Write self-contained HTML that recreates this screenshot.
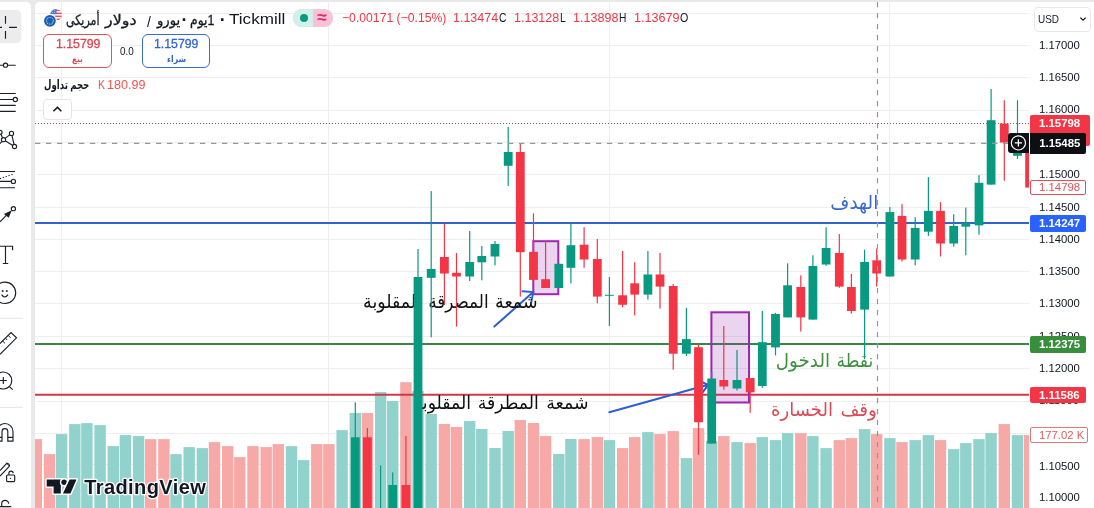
<!DOCTYPE html>
<html lang="en">
<head>
<meta charset="utf-8">
<title>EURUSD 1D Tickmill</title>
<style>
*{box-sizing:border-box;margin:0;padding:0}
html,body{width:1094px;height:508px;overflow:hidden;background:#fff}
body{position:relative;font-family:"Liberation Sans","DejaVu Sans",sans-serif;color:#131722;-webkit-font-smoothing:antialiased}
.abs{position:absolute;white-space:nowrap}
#topbar{left:0;top:0;width:1094px;height:2px;background:#e9e9ea}
#sep{left:31px;top:0;width:4px;height:508px;background:#e9e9ea}
#toolbar{left:0;top:2px;width:31px;height:506px;background:#fff}
#chart{position:absolute;left:0;top:0}
.pl{left:1030px;width:56px;height:16px;border-radius:2px;font-size:11.4px;font-weight:bold;color:#fff;line-height:16px;padding-left:9px;letter-spacing:0px}
.ps{left:1039px;font-size:11.3px;color:#131722;line-height:12px;height:12px}
.leg{top:11px;font-size:12.4px;line-height:15px;color:#f23645}
.leg b{font-weight:normal;color:#131722}
</style>
</head>
<body>
<svg id="chart" width="1094" height="508" viewBox="0 0 1094 508">
<defs><clipPath id="pane"><rect x="35" y="2" width="994" height="506"/></clipPath></defs>
<g stroke="#eeeeef" stroke-width="1" shape-rendering="crispEdges"><line x1="35" x2="1028.5" y1="13.5" y2="13.5"/><line x1="35" x2="1028.5" y1="45.4" y2="45.4"/><line x1="35" x2="1028.5" y1="77.5" y2="77.5"/><line x1="35" x2="1028.5" y1="110" y2="110"/><line x1="35" x2="1028.5" y1="142.2" y2="142.2"/><line x1="35" x2="1028.5" y1="174.2" y2="174.2"/><line x1="35" x2="1028.5" y1="207" y2="207"/><line x1="35" x2="1028.5" y1="239.4" y2="239.4"/><line x1="35" x2="1028.5" y1="271.3" y2="271.3"/><line x1="35" x2="1028.5" y1="303.7" y2="303.7"/><line x1="35" x2="1028.5" y1="336" y2="336"/><line x1="35" x2="1028.5" y1="368" y2="368"/><line x1="35" x2="1028.5" y1="401" y2="401"/><line x1="35" x2="1028.5" y1="433.4" y2="433.4"/><line x1="35" x2="1028.5" y1="464.8" y2="464.8"/><line x1="35" x2="1028.5" y1="497.2" y2="497.2"/><line x1="61.6" x2="61.6" y1="2" y2="508"/><line x1="328.9" x2="328.9" y1="2" y2="508"/><line x1="609.4" x2="609.4" y1="2" y2="508"/><line x1="889.9" x2="889.9" y1="2" y2="508"/></g>
<g clip-path="url(#pane)">
<g><rect x="30.6" y="439.1" width="11.4" height="70.9" fill="#f7a9a7"/><rect x="43.8" y="454.1" width="11.4" height="55.9" fill="#f7a9a7"/><rect x="55.9" y="434.1" width="11.4" height="75.9" fill="#92d2cc"/><rect x="69.1" y="424.1" width="11.4" height="85.9" fill="#92d2cc"/><rect x="81.2" y="423.1" width="11.4" height="86.9" fill="#92d2cc"/><rect x="94.4" y="425.1" width="11.4" height="84.9" fill="#92d2cc"/><rect x="107.6" y="446.1" width="11.4" height="63.9" fill="#92d2cc"/><rect x="119.7" y="435.1" width="11.4" height="74.9" fill="#92d2cc"/><rect x="132.9" y="436.1" width="11.4" height="73.9" fill="#92d2cc"/><rect x="145" y="439.1" width="11.4" height="70.9" fill="#f7a9a7"/><rect x="158.2" y="439.1" width="11.4" height="70.9" fill="#f7a9a7"/><rect x="170.3" y="454.1" width="11.4" height="55.9" fill="#92d2cc"/><rect x="183.5" y="447.1" width="11.4" height="62.9" fill="#92d2cc"/><rect x="196.7" y="448.1" width="11.4" height="61.9" fill="#92d2cc"/><rect x="208.8" y="442.1" width="11.4" height="67.9" fill="#f7a9a7"/><rect x="222" y="446.1" width="11.4" height="63.9" fill="#f7a9a7"/><rect x="234.1" y="457.1" width="11.4" height="52.9" fill="#f7a9a7"/><rect x="247.3" y="446.1" width="11.4" height="63.9" fill="#f7a9a7"/><rect x="260.5" y="447.1" width="11.4" height="62.9" fill="#f7a9a7"/><rect x="272.6" y="444.1" width="11.4" height="65.9" fill="#f7a9a7"/><rect x="285.8" y="446.1" width="11.4" height="63.9" fill="#92d2cc"/><rect x="297.9" y="460.1" width="11.4" height="49.9" fill="#92d2cc"/><rect x="311.1" y="444.1" width="11.4" height="65.9" fill="#f7a9a7"/><rect x="323.2" y="444.1" width="11.4" height="65.9" fill="#f7a9a7"/><rect x="336.4" y="430.1" width="11.4" height="79.9" fill="#92d2cc"/><rect x="349.6" y="413" width="11.4" height="97" fill="#92d2cc"/><rect x="361.7" y="413" width="11.4" height="97" fill="#f7a9a7"/><rect x="374.9" y="392" width="11.4" height="118" fill="#92d2cc"/><rect x="387" y="401" width="11.4" height="109" fill="#92d2cc"/><rect x="400.2" y="382.2" width="11.4" height="127.8" fill="#f7a9a7"/><rect x="412.3" y="391" width="11.4" height="119" fill="#92d2cc"/><rect x="425.5" y="414" width="11.4" height="96" fill="#92d2cc"/><rect x="438.7" y="424" width="11.4" height="86" fill="#f7a9a7"/><rect x="450.8" y="427" width="11.4" height="83" fill="#f7a9a7"/><rect x="464" y="421" width="11.4" height="89" fill="#92d2cc"/><rect x="476.1" y="429" width="11.4" height="81" fill="#92d2cc"/><rect x="489.3" y="448" width="11.4" height="62" fill="#92d2cc"/><rect x="502.5" y="431" width="11.4" height="79" fill="#92d2cc"/><rect x="514.6" y="420" width="11.4" height="90" fill="#f7a9a7"/><rect x="527.8" y="423" width="11.4" height="87" fill="#f7a9a7"/><rect x="539.9" y="436" width="11.4" height="74" fill="#f7a9a7"/><rect x="553.1" y="454" width="11.4" height="56" fill="#92d2cc"/><rect x="565.2" y="439" width="11.4" height="71" fill="#92d2cc"/><rect x="578.4" y="439.1" width="11.4" height="70.9" fill="#f7a9a7"/><rect x="591.6" y="437.1" width="11.4" height="72.9" fill="#f7a9a7"/><rect x="603.7" y="440.1" width="11.4" height="69.9" fill="#92d2cc"/><rect x="616.9" y="448.1" width="11.4" height="61.9" fill="#f7a9a7"/><rect x="629" y="437.1" width="11.4" height="72.9" fill="#f7a9a7"/><rect x="642.2" y="432.1" width="11.4" height="77.9" fill="#92d2cc"/><rect x="654.3" y="434.1" width="11.4" height="75.9" fill="#f7a9a7"/><rect x="667.5" y="431.1" width="11.4" height="78.9" fill="#f7a9a7"/><rect x="680.7" y="458.1" width="11.4" height="51.9" fill="#92d2cc"/><rect x="692.8" y="428.1" width="11.4" height="81.9" fill="#f7a9a7"/><rect x="706" y="441" width="11.4" height="69" fill="#92d2cc"/><rect x="718.1" y="436.1" width="11.4" height="73.9" fill="#f7a9a7"/><rect x="731.3" y="442.1" width="11.4" height="67.9" fill="#92d2cc"/><rect x="744.5" y="443.1" width="11.4" height="66.9" fill="#f7a9a7"/><rect x="756.6" y="437.1" width="11.4" height="72.9" fill="#92d2cc"/><rect x="769.8" y="440.1" width="11.4" height="69.9" fill="#92d2cc"/><rect x="781.9" y="433.1" width="11.4" height="76.9" fill="#92d2cc"/><rect x="795.1" y="433.1" width="11.4" height="76.9" fill="#f7a9a7"/><rect x="807.2" y="436.1" width="11.4" height="73.9" fill="#92d2cc"/><rect x="820.4" y="448.1" width="11.4" height="61.9" fill="#92d2cc"/><rect x="833.6" y="440.1" width="11.4" height="69.9" fill="#f7a9a7"/><rect x="845.7" y="438.1" width="11.4" height="71.9" fill="#f7a9a7"/><rect x="858.9" y="429.1" width="11.4" height="80.9" fill="#92d2cc"/><rect x="871" y="434.1" width="11.4" height="75.9" fill="#f7a9a7"/><rect x="884.2" y="438.1" width="11.4" height="71.9" fill="#92d2cc"/><rect x="896.3" y="442.1" width="11.4" height="67.9" fill="#f7a9a7"/><rect x="909.5" y="440.1" width="11.4" height="69.9" fill="#92d2cc"/><rect x="922.7" y="435.1" width="11.4" height="74.9" fill="#92d2cc"/><rect x="934.8" y="440.1" width="11.4" height="69.9" fill="#f7a9a7"/><rect x="948" y="449.1" width="11.4" height="60.9" fill="#92d2cc"/><rect x="960.1" y="443.1" width="11.4" height="66.9" fill="#92d2cc"/><rect x="973.3" y="439.1" width="11.4" height="70.9" fill="#92d2cc"/><rect x="985.4" y="433.1" width="11.4" height="76.9" fill="#92d2cc"/><rect x="998.6" y="424.1" width="11.4" height="85.9" fill="#f7a9a7"/><rect x="1011.8" y="435.1" width="11.4" height="74.9" fill="#92d2cc"/><rect x="1023.9" y="435.1" width="11.4" height="74.9" fill="#f7a9a7"/></g>
<g id="drawings">
<line x1="35" x2="1029" y1="222.9" y2="222.9" stroke="#3163cc" stroke-width="2"/>
<line x1="35" x2="1029" y1="343.9" y2="343.9" stroke="#3c8545" stroke-width="2"/>
<line x1="35" x2="1029" y1="394.8" y2="394.8" stroke="#cd384a" stroke-width="2"/>
<rect x="533.3" y="241.2" width="25" height="53" fill="#9c27b0" fill-opacity="0.2" stroke="#9c27b0" stroke-width="2"/>
<rect x="711.4" y="312.3" width="37.6" height="90.2" fill="#9c27b0" fill-opacity="0.2" stroke="#9c27b0" stroke-width="2"/>
<g stroke="#2c5fd6" stroke-width="2" fill="none" stroke-linecap="round">
<path d="M494.3 326.6L533.2 292.1M522.5 291.2L533.2 292.1L531.2 302.6"/>
<path d="M609.3 412.3L708.2 384.8M699.5 381L708.2 384.8L702.6 392.4"/>
</g>
<g font-family="'Liberation Sans','DejaVu Sans',sans-serif" text-anchor="end">
<text id="t1a" transform="translate(537.54 308) scale(0.918 1)" font-size="19" fill="#101010" stroke="#101010" stroke-width="0">شمعة</text>
<text id="t1b" transform="translate(488.63 308) scale(0.886 1)" font-size="19" fill="#101010" stroke="#101010" stroke-width="0">المصرقة</text>
<text id="t1c" transform="translate(420.77 308) scale(0.912 1)" font-size="19" fill="#101010" stroke="#101010" stroke-width="0">المقلوبة</text>
<text id="t2a" transform="translate(588.51 409.4) scale(0.938 1)" font-size="18.5" fill="#101010" stroke="#101010" stroke-width="0">شمعة</text>
<text id="t2b" transform="translate(538.66 409.4) scale(0.929 1)" font-size="18.5" fill="#101010" stroke="#101010" stroke-width="0">المطرقة</text>
<text id="t2c" transform="translate(471.06 409.4) scale(0.934 1)" font-size="18.5" fill="#101010" stroke="#101010" stroke-width="0">المقلوبة</text>
<text id="t3" transform="translate(878.24 208.9) scale(0.968 1)" font-size="19" fill="#3668cf" stroke="#3668cf" stroke-width="0">الهدف</text>
<text id="t4a" transform="translate(873.26 367) scale(0.904 1)" font-size="19" fill="#3f8f3f" stroke="#3f8f3f" stroke-width="0">نقطة</text>
<text id="t4b" transform="translate(830.03 367) scale(0.961 1)" font-size="19" fill="#3f8f3f" stroke="#3f8f3f" stroke-width="0">الدخول</text>
<text id="t5a" transform="translate(876.92 416) scale(0.989 1)" font-size="18.5" fill="#dc4a55" stroke="#dc4a55" stroke-width="0">وقف</text>
<text id="t5b" transform="translate(833.01 416) scale(0.975 1)" font-size="18.5" fill="#dc4a55" stroke="#dc4a55" stroke-width="0">الخسارة</text>
</g>
</g>

<g><rect x="354.7" y="402.3" width="1.2" height="117.7" fill="#089981"/><rect x="350.9" y="437.3" width="8.8" height="82.7" fill="#089981"/><rect x="366.8" y="428" width="1.2" height="92" fill="#f23645"/><rect x="363" y="437.3" width="8.8" height="82.7" fill="#f23645"/><rect x="380" y="465.4" width="1.2" height="54.6" fill="#089981"/><rect x="376.2" y="515" width="8.8" height="5" fill="#089981"/><rect x="392.1" y="472.4" width="1.2" height="47.6" fill="#089981"/><rect x="388.3" y="485" width="8.8" height="35" fill="#089981"/><rect x="405.3" y="436" width="1.2" height="84" fill="#f23645"/><rect x="401.5" y="485" width="8.8" height="35" fill="#f23645"/><rect x="417.4" y="249" width="1.2" height="271" fill="#089981"/><rect x="413.6" y="277" width="8.8" height="243" fill="#089981"/><rect x="430.6" y="191.1" width="1.2" height="146.3" fill="#089981"/><rect x="426.8" y="269" width="8.8" height="8.8" fill="#089981"/><rect x="443.8" y="223.4" width="1.2" height="81.6" fill="#f23645"/><rect x="440" y="257" width="8.8" height="16.5" fill="#f23645"/><rect x="455.9" y="253" width="1.2" height="73.6" fill="#f23645"/><rect x="452.1" y="272.8" width="8.8" height="3.7" fill="#f23645"/><rect x="469.1" y="231" width="1.2" height="50" fill="#089981"/><rect x="465.3" y="262" width="8.8" height="14.5" fill="#089981"/><rect x="481.2" y="246" width="1.2" height="34.3" fill="#089981"/><rect x="477.4" y="256" width="8.8" height="6.3" fill="#089981"/><rect x="494.4" y="241" width="1.2" height="24.3" fill="#089981"/><rect x="490.6" y="244" width="8.8" height="12.5" fill="#089981"/><rect x="507.6" y="127" width="1.2" height="58.9" fill="#089981"/><rect x="503.8" y="152" width="8.8" height="13.8" fill="#089981"/><rect x="519.7" y="143.8" width="1.2" height="152.8" fill="#f23645"/><rect x="515.9" y="152" width="8.8" height="100.2" fill="#f23645"/><rect x="532.9" y="213.4" width="1.2" height="67.6" fill="#f23645"/><rect x="529.1" y="251.8" width="8.8" height="28.1" fill="#f23645"/><rect x="545" y="241" width="1.2" height="47" fill="#f23645"/><rect x="541.2" y="279.2" width="8.8" height="8.8" fill="#f23645"/><rect x="558.2" y="263.8" width="1.2" height="24.2" fill="#089981"/><rect x="554.4" y="263.8" width="8.8" height="24.2" fill="#089981"/><rect x="570.3" y="223.4" width="1.2" height="60.1" fill="#089981"/><rect x="566.5" y="245.2" width="8.8" height="22.6" fill="#089981"/><rect x="583.5" y="227.2" width="1.2" height="40.6" fill="#f23645"/><rect x="579.7" y="244.7" width="8.8" height="14.8" fill="#f23645"/><rect x="596.7" y="239" width="1.2" height="64.3" fill="#f23645"/><rect x="592.9" y="259" width="8.8" height="37.6" fill="#f23645"/><rect x="608.8" y="277" width="1.2" height="48.9" fill="#089981"/><rect x="605" y="294.8" width="8.8" height="1" fill="#089981"/><rect x="622" y="251" width="1.2" height="56.3" fill="#f23645"/><rect x="618.2" y="295.3" width="8.8" height="9.5" fill="#f23645"/><rect x="634.1" y="262.3" width="1.2" height="53.1" fill="#f23645"/><rect x="630.3" y="283.3" width="8.8" height="11.3" fill="#f23645"/><rect x="647.3" y="251" width="1.2" height="48.6" fill="#089981"/><rect x="643.5" y="274.5" width="8.8" height="20.1" fill="#089981"/><rect x="659.4" y="253" width="1.2" height="55.6" fill="#f23645"/><rect x="655.6" y="274.5" width="8.8" height="12.1" fill="#f23645"/><rect x="672.6" y="284" width="1.2" height="85.7" fill="#f23645"/><rect x="668.8" y="286" width="8.8" height="67.7" fill="#f23645"/><rect x="685.8" y="307.8" width="1.2" height="48.2" fill="#089981"/><rect x="682" y="339.1" width="8.8" height="14.6" fill="#089981"/><rect x="697.9" y="344.7" width="1.2" height="110.2" fill="#f23645"/><rect x="694.1" y="347.2" width="8.8" height="75.1" fill="#f23645"/><rect x="711.1" y="372" width="1.2" height="71.6" fill="#089981"/><rect x="707.3" y="378.5" width="8.8" height="65.1" fill="#089981"/><rect x="723.2" y="326" width="1.2" height="63.8" fill="#f23645"/><rect x="719.4" y="380" width="8.8" height="6.5" fill="#f23645"/><rect x="736.4" y="350" width="1.2" height="40.5" fill="#089981"/><rect x="732.6" y="380" width="8.8" height="8.5" fill="#089981"/><rect x="749.6" y="378" width="1.2" height="34.8" fill="#f23645"/><rect x="745.8" y="378" width="8.8" height="14.3" fill="#f23645"/><rect x="761.7" y="311" width="1.2" height="76.8" fill="#089981"/><rect x="757.9" y="342.2" width="8.8" height="43.8" fill="#089981"/><rect x="774.9" y="312.9" width="1.2" height="42.5" fill="#089981"/><rect x="771.1" y="314" width="8.8" height="33.4" fill="#089981"/><rect x="787" y="263.3" width="1.2" height="54.1" fill="#089981"/><rect x="783.2" y="285.3" width="8.8" height="32.1" fill="#089981"/><rect x="800.2" y="275.3" width="1.2" height="56.3" fill="#f23645"/><rect x="796.4" y="287" width="8.8" height="30.4" fill="#f23645"/><rect x="812.3" y="255.3" width="1.2" height="64.3" fill="#089981"/><rect x="808.5" y="266" width="8.8" height="53.6" fill="#089981"/><rect x="825.5" y="227.2" width="1.2" height="38.6" fill="#089981"/><rect x="821.7" y="248" width="8.8" height="16.5" fill="#089981"/><rect x="838.7" y="234" width="1.2" height="53.8" fill="#f23645"/><rect x="834.9" y="253" width="8.8" height="33.6" fill="#f23645"/><rect x="850.8" y="274" width="1.2" height="39.6" fill="#f23645"/><rect x="847" y="287" width="8.8" height="24" fill="#f23645"/><rect x="864" y="249.7" width="1.2" height="109.5" fill="#089981"/><rect x="860.2" y="262" width="8.8" height="47.6" fill="#089981"/><rect x="876.1" y="248.5" width="1.2" height="38.1" fill="#f23645"/><rect x="872.3" y="260.3" width="8.8" height="13.2" fill="#f23645"/><rect x="889.3" y="207.1" width="1.2" height="69.4" fill="#089981"/><rect x="885.5" y="212.1" width="8.8" height="64.4" fill="#089981"/><rect x="901.4" y="204.1" width="1.2" height="57.4" fill="#f23645"/><rect x="897.6" y="215.9" width="8.8" height="43.6" fill="#f23645"/><rect x="914.6" y="217.2" width="1.2" height="48.1" fill="#089981"/><rect x="910.8" y="227.9" width="8.8" height="31.6" fill="#089981"/><rect x="927.8" y="177.1" width="1.2" height="58.8" fill="#089981"/><rect x="924" y="210.9" width="8.8" height="20.8" fill="#089981"/><rect x="939.9" y="202.1" width="1.2" height="54.4" fill="#f23645"/><rect x="936.1" y="210.9" width="8.8" height="32.6" fill="#f23645"/><rect x="953.1" y="214.2" width="1.2" height="32.5" fill="#089981"/><rect x="949.3" y="225.9" width="8.8" height="17.6" fill="#089981"/><rect x="965.2" y="207.6" width="1.2" height="47.7" fill="#089981"/><rect x="961.4" y="222.9" width="8.8" height="3.8" fill="#089981"/><rect x="978.4" y="175.1" width="1.2" height="59.6" fill="#089981"/><rect x="974.6" y="182.8" width="8.8" height="42.6" fill="#089981"/><rect x="990.5" y="88.9" width="1.2" height="95.7" fill="#089981"/><rect x="986.7" y="120.2" width="8.8" height="64.4" fill="#089981"/><rect x="1003.7" y="100.2" width="1.2" height="80.6" fill="#f23645"/><rect x="999.9" y="123.5" width="8.8" height="19" fill="#f23645"/><rect x="1016.9" y="100.2" width="1.2" height="58.8" fill="#089981"/><rect x="1013.1" y="148" width="8.8" height="7.8" fill="#089981"/><rect x="1029" y="143" width="1.2" height="44.6" fill="#f23645"/><rect x="1025.2" y="143" width="8.8" height="44.6" fill="#f23645"/></g>
</g>
<g id="overlay">
<line x1="35" x2="1029" y1="123.45" y2="123.45" stroke="#9c525d" stroke-width="1.15" stroke-dasharray="1 2"/>
<line x1="35" x2="1008.5" y1="143.45" y2="143.45" stroke="#94969b" stroke-width="1.2" stroke-dasharray="5.3 5.7"/>
<line x1="877.5" x2="877.5" y1="1.9" y2="508" stroke="#94969b" stroke-width="1.2" stroke-dasharray="5.3 5.7"/>
</g>

</svg>
<div class="abs" id="topbar"></div>
<div class="abs" id="toolbar"></div>
<div class="abs" id="sep"></div>
<svg class="abs" style="left:0;top:0" width="31" height="508" viewBox="0 0 31 508" fill="none" stroke="#1c1f2a" stroke-width="1.15">
<path d="M0 10H16.3a5 5 0 0 1 5 5V38.2a5 5 0 0 1 -5 5H0z" fill="#ececed" stroke="none"/>
<path d="M5.5 16V23.8M5.5 31V38.8M9 27.4H16.9M0 27.4H2"/>
<path d="M0 65.2H3.4M7.7 65.2H15.7"/><circle cx="5.5" cy="65.2" r="2.1" fill="#fff"/>
<path d="M0 93.5H15.7M0 99.5H13.1M0 105.4H15.7M0 111.3H15.7"/><circle cx="15.3" cy="99.5" r="2.1" fill="#fff"/>
<path d="M0 132.3L3.5 139.7L11.5 133.4L14.5 146.5L3.5 139.7L0 143.5"/>
<circle cx="0" cy="132.3" r="2.1" fill="#fff"/><circle cx="3.5" cy="139.7" r="2.1" fill="#fff"/><circle cx="11.5" cy="133.4" r="2.1" fill="#fff"/><circle cx="14.5" cy="146.5" r="2.1" fill="#fff"/>
<path d="M0 171.5H15M0 181.4H11.3M0 187.7H15"/><path d="M0 178.6L13 174.2" stroke-dasharray="1.2 1.8"/><circle cx="13.4" cy="181.4" r="2.1" fill="#fff"/>
<path d="M0 221.8L8 213.7"/><path d="M11.8 210.3L3.9 213.9L8.7 217.8z" fill="#1c1f2a" stroke="none"/><circle cx="13.4" cy="208.7" r="2.1" fill="#fff"/>
<path d="M0 246.2H12.6V250.2M5.5 246.2V263.5M2.8 263.5H8.2"/>
<circle cx="5" cy="292.8" r="10.7"/><path d="M1.7 291H3.7M2.7 290V292M5.8 291H7.8M6.8 290V292" stroke-width="0.9"/><path d="M1.6 294.6Q4.8 299.4 8 294.6"/>
<path d="M0 318.3H22.8M0 407.4H22.8" stroke="#e4e6ea" stroke-width="1"/>
<path d="M0 343.6L11 332.5L16.5 337.8L0 354.3"/><path d="M2.6 341L5 343.4M5.4 338.2L7.2 340M8.2 335.4L10.6 337.8" stroke-width="1"/>
<circle cx="3.3" cy="380.5" r="8.5"/><path d="M0 380.5H6.8M3.3 377V384M9.4 386.6L12.7 389.7"/>
<path d="M-3.2 441.1V431.6a8.1 8.1 0 0 1 16.2 0V441.1H7.8V431.6a2.9 2.9 0 0 0 -5.8 0V441.1z"/><path d="M-3.2 437.3H2M7.8 437.3H13"/>
<path d="M0 470.5L6 464.2a1.9 1.9 0 0 1 2.8 2.6L0 476"/><path d="M5.8 462.6L9.6 466.2" stroke-width="0.9"/>
<rect x="6.6" y="475" width="8.1" height="6.6" rx="1"/><path d="M8.9 475V473.2a2.1 2.1 0 0 1 4.2 0"/><circle cx="10.6" cy="478.4" r="0.6" fill="#1c1f2a" stroke="none"/>
<path d="M0 506.6H11.3M1.7 506.6V503.8a3.5 3.5 0 0 1 7 0"/>
</svg>
<div class="abs" id="corner1" style="left:27px;top:2px;width:4px;height:4px;background:radial-gradient(circle at 0 100%,#fff 3.4px,#e9e9ea 4.2px)"></div>
<div class="abs" id="corner2" style="left:35px;top:2px;width:4px;height:4px;background:radial-gradient(circle at 100% 100%,#fff 3.4px,#e9e9ea 4.2px)"></div>

<svg class="abs" style="left:40px;top:6px" width="26" height="24" viewBox="40 6 26 24">
<defs><clipPath id="usc"><circle cx="56.1" cy="14.8" r="5.9"/></clipPath></defs>
<g clip-path="url(#usc)"><rect x="50" y="8" width="13" height="14" fill="#fff"/>
<rect x="50" y="9.6" width="13" height="1.5" fill="#e0525c"/><rect x="50" y="12.6" width="13" height="1.5" fill="#e0525c"/><rect x="50" y="15.6" width="13" height="1.5" fill="#e0525c"/><rect x="50" y="18.6" width="13" height="1.6" fill="#e0525c"/>
<rect x="50" y="8" width="6.6" height="6.2" fill="#4a7fd0"/>
<g fill="#fff"><circle cx="52.6" cy="10.4" r=".45"/><circle cx="54.6" cy="10.4" r=".45"/><circle cx="52.6" cy="12.4" r=".45"/><circle cx="54.6" cy="12.4" r=".45"/></g></g>
<circle cx="49.9" cy="20.8" r="7" fill="#fff"/><circle cx="49.9" cy="20.8" r="5.9" fill="#1b5fb3"/>
<circle cx="49.9" cy="20.8" r="3.4" fill="none" stroke="#b5d2f5" stroke-width="1.1" stroke-dasharray="0.9 0.88"/>
</svg>
<div class="abs" style="left:293.4px;top:9.2px;width:39.2px;height:17.4px;border-radius:8.7px;background:#f9c3d6;overflow:hidden"><div style="position:absolute;left:0;top:0;width:19.6px;height:17.4px;background:#d3efe9"></div></div>
<div class="abs" style="left:299.5px;top:13.7px;width:8.8px;height:8.8px;border-radius:50%;background:#089981"></div>
<div class="abs" style="left:316.5px;top:9.2px;width:11px;height:17.4px;line-height:17.4px;text-align:center;font-size:17.5px;font-weight:bold;color:#e5266f">≈</div>
<div class="abs" style="left:43px;top:34.3px;width:69px;height:33.3px;border:1px solid #e2525c;border-radius:6px;background:#fff"></div>
<div class="abs" style="left:141.8px;top:34.3px;width:68px;height:33.3px;border:1px solid #3c6bd0;border-radius:6px;background:#fff"></div>
<div class="abs" style="left:43px;top:99.2px;width:28.8px;height:20.4px;border:1px solid #e3e5ea;border-radius:4px;background:#fff"></div>
<svg class="abs" style="left:51px;top:104px" width="13" height="11" viewBox="0 0 13 11"><path d="M2.4 7.2L6.4 3.4L10.4 7.2" fill="none" stroke="#131722" stroke-width="1.5"/></svg>
<div class="abs" id="h1" style="left:65.80px;top:9.7px;font-size:14.5px;font-weight:normal;color:#131722;line-height:20.3px;height:20.3px;transform-origin:0 50%;transform:scaleX(0.765);-webkit-text-stroke:0.3px #131722">أمريكى</div>
<div class="abs" id="h2" style="left:104.50px;top:9.7px;font-size:14.5px;font-weight:normal;color:#131722;line-height:20.3px;height:20.3px;transform-origin:0 50%;transform:scaleX(1.100);-webkit-text-stroke:0.3px #131722">دولار</div>
<div class="abs" id="h3" style="left:147.20px;top:12.8px;font-size:14px;font-weight:normal;color:#131722;line-height:19.6px;height:19.6px;transform-origin:0 50%;transform:scaleX(1.002)">/</div>
<div class="abs" id="h4" style="left:156.61px;top:9.7px;font-size:14.5px;font-weight:normal;color:#131722;line-height:20.3px;height:20.3px;transform-origin:0 50%;transform:scaleX(0.910);-webkit-text-stroke:0.3px #131722">يورو</div>
<div class="abs" id="h5" style="left:181.50px;top:8.4px;font-size:18px;font-weight:bold;color:#131722;line-height:25.2px;height:25.2px;transform-origin:0 50%;transform:scaleX(1.000)">·</div>
<div class="abs" id="h6" dir="rtl" style="left:189.90px;top:9.7px;font-size:14.5px;font-weight:normal;color:#131722;line-height:20.3px;height:20.3px;transform-origin:0 50%;transform:scaleX(0.853);-webkit-text-stroke:0.3px #131722">1يوم</div>
<div class="abs" id="h7" style="left:219.80px;top:8.4px;font-size:18px;font-weight:bold;color:#131722;line-height:25.2px;height:25.2px;transform-origin:0 50%;transform:scaleX(1.000)">·</div>
<div class="abs" id="h8" style="left:228.60px;top:7.5px;font-size:15.5px;font-weight:normal;color:#131722;line-height:21.7px;height:21.7px;transform-origin:0 50%;transform:scaleX(1.104)">Tickmill</div>
<div class="abs" id="l1" style="left:342.30px;top:9.6px;font-size:12.4px;font-weight:normal;color:#f23645;line-height:17.4px;height:17.4px;transform-origin:0 50%;transform:scaleX(0.984)">−0.00171 (−0.15%)</div>
<div class="abs" id="l2" style="left:453.30px;top:9.6px;font-size:12.4px;font-weight:normal;color:#f23645;line-height:17.4px;height:17.4px;transform-origin:0 50%;transform:scaleX(1.007)">1.13474</div>
<div class="abs" id="l2b" style="left:498.80px;top:9.6px;font-size:12.4px;font-weight:normal;color:#131722;line-height:17.4px;height:17.4px;transform-origin:0 50%;transform:scaleX(0.838)">C</div>
<div class="abs" id="l3" style="left:514.20px;top:9.6px;font-size:12.4px;font-weight:normal;color:#f23645;line-height:17.4px;height:17.4px;transform-origin:0 50%;transform:scaleX(1.009)">1.13128</div>
<div class="abs" id="l3b" style="left:559.80px;top:9.6px;font-size:12.4px;font-weight:normal;color:#131722;line-height:17.4px;height:17.4px;transform-origin:0 50%;transform:scaleX(0.840)">L</div>
<div class="abs" id="l4" style="left:573.40px;top:9.6px;font-size:12.4px;font-weight:normal;color:#f23645;line-height:17.4px;height:17.4px;transform-origin:0 50%;transform:scaleX(1.013)">1.13898</div>
<div class="abs" id="l4b" style="left:619.20px;top:9.6px;font-size:12.4px;font-weight:normal;color:#131722;line-height:17.4px;height:17.4px;transform-origin:0 50%;transform:scaleX(0.827)">H</div>
<div class="abs" id="l5" style="left:634.40px;top:9.6px;font-size:12.4px;font-weight:normal;color:#f23645;line-height:17.4px;height:17.4px;transform-origin:0 50%;transform:scaleX(1.018)">1.13679</div>
<div class="abs" id="l5b" style="left:680.40px;top:9.6px;font-size:12.4px;font-weight:normal;color:#131722;line-height:17.4px;height:17.4px;transform-origin:0 50%;transform:scaleX(0.861)">O</div>
<div class="abs" id="b1" style="left:55.50px;top:35.8px;font-size:12.2px;font-weight:normal;color:#e0434f;line-height:17.1px;height:17.1px;transform-origin:0 50%;transform:scaleX(1.008);-webkit-text-stroke:0.3px #e0434f">1.15799</div>
<div class="abs" id="b2" style="left:72.20px;top:53.4px;font-size:9px;font-weight:bold;color:#e0434f;line-height:12.6px;height:12.6px;transform-origin:0 50%;transform:scaleX(0.819)">بيع</div>
<div class="abs" id="b3" style="left:119.90px;top:43.6px;font-size:11px;font-weight:normal;color:#131722;line-height:15.4px;height:15.4px;transform-origin:0 50%;transform:scaleX(0.896)">0.0</div>
<div class="abs" id="b4" style="left:153.60px;top:35.8px;font-size:12.2px;font-weight:normal;color:#2f62d9;line-height:17.1px;height:17.1px;transform-origin:0 50%;transform:scaleX(1.008);-webkit-text-stroke:0.3px #2f62d9">1.15799</div>
<div class="abs" id="b5" style="left:166.70px;top:53.4px;font-size:9px;font-weight:bold;color:#2f62d9;line-height:12.6px;height:12.6px;transform-origin:0 50%;transform:scaleX(0.862)">شراء</div>
<div class="abs" id="v1" style="left:43.70px;top:76.8px;font-size:12.5px;font-weight:bold;color:#131722;line-height:17.5px;height:17.5px;transform-origin:0 50%;transform:scaleX(0.685)">حجم تداول</div>
<div class="abs" id="v2" style="left:97.80px;top:77.0px;font-size:12.2px;font-weight:normal;color:#ef5350;line-height:17.1px;height:17.1px;transform-origin:0 50%;transform:scaleX(0.860)">K</div>
<div class="abs" id="v3" style="left:106.60px;top:77.0px;font-size:12.2px;font-weight:normal;color:#ef5350;line-height:17.1px;height:17.1px;transform-origin:0 50%;transform:scaleX(1.030)">180.99</div>
<div class="abs" id="axisbg" style="left:1029px;top:2px;width:65px;height:506px;background:#fff"></div>
<div class="abs ps" style="top:39.4px">1.17000</div>
<div class="abs ps" style="top:71.3px">1.16500</div>
<div class="abs ps" style="top:103.3px">1.16000</div>
<div class="abs ps" style="top:135.5px">1.15500</div>
<div class="abs ps" style="top:167.9px">1.15000</div>
<div class="abs ps" style="top:200.8px">1.14500</div>
<div class="abs ps" style="top:232.7px">1.14000</div>
<div class="abs ps" style="top:265.3px">1.13500</div>
<div class="abs ps" style="top:297.2px">1.13000</div>
<div class="abs ps" style="top:329.8px">1.12500</div>
<div class="abs ps" style="top:362.3px">1.12000</div>
<div class="abs ps" style="top:393.8px">1.11500</div>
<div class="abs ps" style="top:427.1px">1.11000</div>
<div class="abs ps" style="top:459.8px">1.10500</div>
<div class="abs ps" style="top:491.4px">1.10000</div>
<div class="abs" style="left:1033.5px;top:7px;width:57px;height:24.5px;border:1px solid #e6e8ec;border-radius:4px;background:#fff"></div>
<div class="abs" style="left:1037.5px;top:12.3px;font-size:11.6px;line-height:14px;color:#131722;transform-origin:0 50%;transform:scaleX(0.86)">USD</div>
<svg class="abs" style="left:1078px;top:15px" width="10" height="8" viewBox="0 0 10 8"><path d="M2.3 2.6L5 5.2L7.7 2.6" fill="none" stroke="#131722" stroke-width="1.3"/></svg>
<div class="abs pl" style="top:115px;height:30.5px;width:60px;background:#f23645;line-height:17.6px">1.15798</div>
<div class="abs pl" style="left:1008px;top:133px;width:21px;height:19.9px;background:#0e0f13;border-radius:3px 0 0 3px;padding:0"><svg width="21" height="20" viewBox="0 0 21 20" style="display:block"><circle cx="10.4" cy="9.9" r="7.1" fill="none" stroke="#fff" stroke-width="1.2"/><path d="M6.8 9.9H14M10.4 6.3V13.5" stroke="#fff" stroke-width="1.3"/></svg></div>
<div class="abs pl" style="left:1030.2px;top:133px;height:20.6px;width:55.6px;background:#0e0f13;line-height:20.4px;border-radius:0 2px 2px 0">1.15485</div>
<div class="abs pl" style="top:179.5px;height:15.8px;background:#fff;border:1px solid #e0505b;color:#e4505c;font-weight:normal;line-height:13.8px;padding-left:8px">1.14798</div>
<div class="abs pl" style="top:215.2px;height:16.8px;line-height:16.8px;background:#2962ff">1.14247</div>
<div class="abs pl" style="top:335.9px;height:16.9px;line-height:17.4px;background:#388e3c">1.12375</div>
<div class="abs pl" style="top:387.1px;height:16.4px;line-height:16.6px;background:#f23645">1.11586</div>
<div class="abs pl" style="top:427.3px;width:57.5px;height:16.1px;background:#fff;border:1px solid #dd7b7a;color:#d95f5f;font-weight:normal;line-height:14.1px;padding-left:8px;font-size:11.3px">177.02 K</div>
<svg class="abs" style="left:40px;top:470px" width="175" height="38" viewBox="40 470 175 38">
<g fill="#131722" stroke="#fff" stroke-width="3" stroke-linejoin="round" paint-order="stroke">
<path d="M46.7 479.5H60.8V493.6H53.6V486.4H46.7z"/>
<circle cx="64.1" cy="482.3" r="2.75"/>
<path d="M69.6 479.5H76.5L70.4 493.6H62.9z"/>
<text x="84.2" y="493.9" font-family="'Liberation Sans','DejaVu Sans',sans-serif" font-weight="bold" font-size="20" letter-spacing="0.42" stroke-width="2.6">TradingView</text>
</g>
</svg>

</body>
</html>
